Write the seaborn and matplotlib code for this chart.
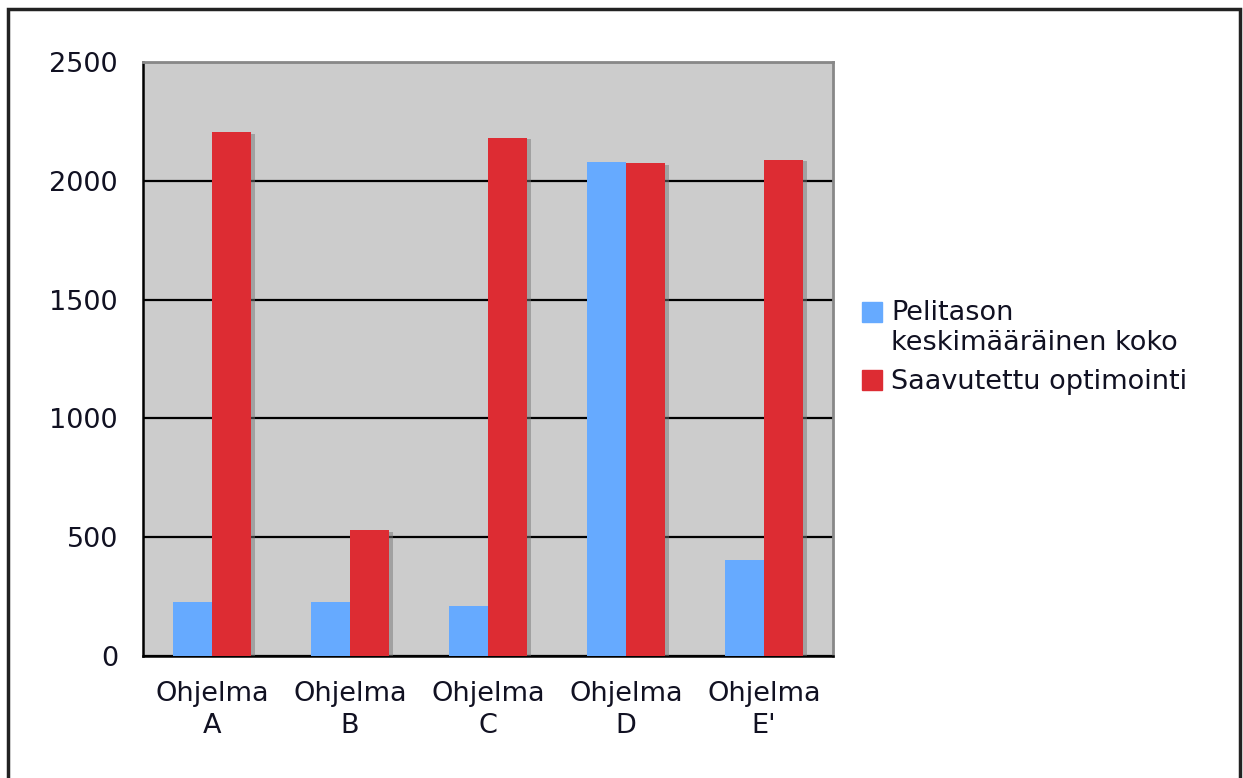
import matplotlib.pyplot as plt
import matplotlib.patheffects as pe
from matplotlib.legend_handler import HandlerPatch
import seaborn as sns
import pandas as pd
import numpy as np

# values
programs = ['Ohjelma\nA', 'Ohjelma\nB', 'Ohjelma\nC', 'Ohjelma\nD', "Ohjelma\nE'"]
series_names = ['Pelitason\nkeskimääräinen koko', 'Saavutettu optimointi']
level_size = [225, 225, 210, 2080, 405]
optimization = [2205, 528, 2182, 2075, 2090]
y_ticks = [0, 500, 1000, 1500, 2000, 2500]
bar_colors = ['#66aaff', '#dd2c33']
text_color = '#111122'
fs = 19.5

df = pd.DataFrame({
    'Ohjelma': programs * 2,
    'Sarja': [series_names[0]] * len(programs) + [series_names[1]] * len(programs),
    'Arvo': level_size + optimization,
})

sns.set_theme(style='white')
plt.rcParams['font.family'] = ['DejaVu Sans']
plt.rcParams['text.color'] = text_color
plt.rcParams['xtick.labelcolor'] = text_color
plt.rcParams['ytick.labelcolor'] = text_color

fig = plt.figure(figsize=(12.43, 7.78), dpi=100)
ax = fig.add_axes([0.115, 0.157, 0.555, 0.763])

sns.barplot(data=df, x='Ohjelma', y='Arvo', hue='Sarja', palette=bar_colors,
            width=0.57, saturation=1, ax=ax, zorder=3, linewidth=0)

# soft drop shadow like the original spreadsheet chart
for p in ax.patches:
    p.set_path_effects([pe.SimplePatchShadow(offset=(2.5, -1), shadow_rgbFace='#777777', alpha=0.5),
                        pe.Normal()])

ax.set_facecolor('#cccccc')
ax.set_xlim(-0.5, len(programs) - 0.5)
ax.set_ylim(0, 2500)
ax.set_yticks(y_ticks)
ax.yaxis.grid(True, color='black', linewidth=1.6)
ax.set_axisbelow(True)
ax.set_xlabel('')
ax.set_ylabel('')

# category labels centred, tick marks at the category borders
ax.set_xticks(range(len(programs)))
ax.set_xticklabels(programs, linespacing=1.3)
ax.set_xticks(np.arange(-0.5, len(programs)), minor=True)
ax.tick_params(axis='x', which='major', length=0, pad=18, labelsize=fs)
ax.tick_params(axis='x', which='minor', length=8, width=1.5, color='black', direction='out')
ax.tick_params(axis='y', length=6, width=1.5, color='black', direction='out', pad=12, labelsize=fs)

for side in ['left', 'bottom']:
    ax.spines[side].set_color('black')
    ax.spines[side].set_linewidth(1.8)
for side in ['top', 'right']:
    ax.spines[side].set_color('#888888')
    ax.spines[side].set_linewidth(2)


# put the square of a two-line entry next to its first line
def first_line_square(legend, orig_handle, xdescent, ydescent, width, height, fontsize):
    return plt.Rectangle((-xdescent, -ydescent + 0.6 * fontsize), width, height)


ax.legend_.remove()
handles = [plt.Rectangle((0, 0), 1, 1, color=c) for c in bar_colors]
fig.legend(handles, series_names, loc='upper left', bbox_to_anchor=(0.674, 0.646),
           frameon=False, fontsize=fs, handlelength=0.72, handleheight=0.72,
           handletextpad=0.35, labelspacing=0.5,
           handler_map={handles[0]: HandlerPatch(patch_func=first_line_square)})

# outer frame of the chart
fig.patches.append(plt.Rectangle((8 / 1243, -0.05), 1232 / 1243, 1 - 9 / 778 + 0.05,
                                 transform=fig.transFigure, fill=False,
                                 edgecolor='#222222', linewidth=2.5))

fig.savefig('out.png', dpi=100)
